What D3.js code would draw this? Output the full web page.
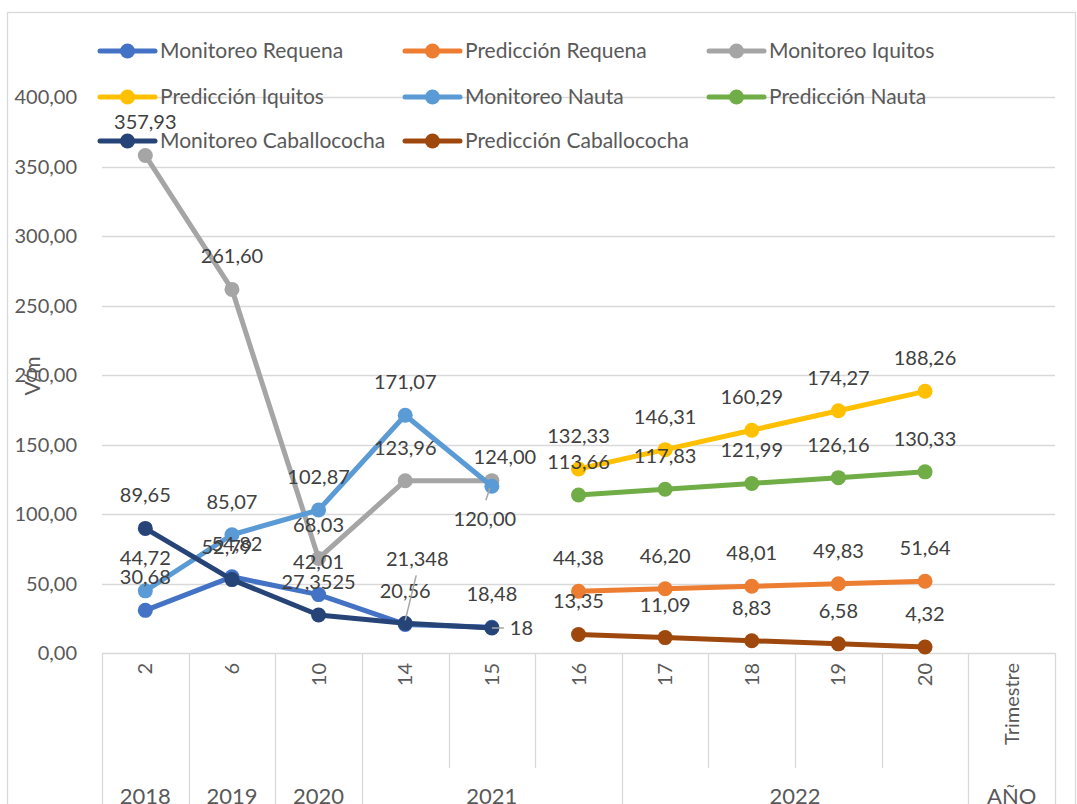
<!DOCTYPE html>
<html><head><meta charset="utf-8">
<script src="https://cdn.jsdelivr.net/npm/d3@7"></script>
<style>body{margin:0;background:#fff}svg{display:block}text{font-family:Lato,"Open Sans",sans-serif}</style>
</head><body>
<svg id="c" width="1077" height="804"></svg>
<script>
const categories = ["2","6","10","14","15","16","17","18","19","20","Trimestre"];
const yearLabels = ["2018","2019","2020","2021","2022","AÑO"];
const yearSpans = [1,1,1,3,4,1];
const yTicks = [0,50,100,150,200,250,300,350,400];

const monitoreoRequena      = [30.68, 54.82, 42.01, 20.56, 18.48, null, null, null, null, null, null];
const prediccionRequena     = [null, null, null, null, null, 44.38, 46.20, 48.01, 49.83, 51.64, null];
const monitoreoIquitos      = [357.93, 261.60, 68.03, 123.96, 124.00, null, null, null, null, null, null];
const prediccionIquitos     = [null, null, null, null, null, 132.33, 146.31, 160.29, 174.27, 188.26, null];
const monitoreoNauta        = [44.72, 85.07, 102.87, 171.07, 120.00, null, null, null, null, null, null];
const prediccionNauta       = [null, null, null, null, null, 113.66, 117.83, 121.99, 126.16, 130.33, null];
const monitoreoCaballococha = [89.65, 52.79, 27.3525, 21.348, 18, null, null, null, null, null, null];
const prediccionCaballococha= [null, null, null, null, null, 13.35, 11.09, 8.83, 6.58, 4.32, null];

const seriesNames = ["Monitoreo Requena","Predicción Requena","Monitoreo Iquitos","Predicción Iquitos",
  "Monitoreo Nauta","Predicción Nauta","Monitoreo Caballococha","Predicción Caballococha"];
const seriesValues = [monitoreoRequena, prediccionRequena, monitoreoIquitos, prediccionIquitos,
  monitoreoNauta, prediccionNauta, monitoreoCaballococha, prediccionCaballococha];
const seriesColors = ["#4472C4","#ED7D31","#A5A5A5","#FFC000","#5B9BD5","#70AD47","#264478","#9E480E"];
const seriesFormat = ["fixed","fixed","fixed","fixed","fixed","fixed","general","fixed"];

// label placement adjustments (styling): [seriesIndex, pointIndex] -> {dx, dy, anchor, leader}
const labelAdjust = {
  "0-1": {dx: 5},
  "6-1": {dx: -5},
  "2-4": {dx: 13, dy: -24},
  "4-4": {dx: -7, dy: 33, leader: [[-2, 2], [-6, 14]]},
  "6-3": {dx: 12, dy: -64, leader: [[0, -3], [11, -48]]},
  "6-4": {dx: 18, dy: 0, anchor: "start", leader: [[0, 0], [12, 0]]}
};

const locale = d3.formatLocale({decimal: ",", thousands: ".", grouping: [3], currency: ["", ""]});
const f2 = locale.format(".2f");
const fmt = (v, t) => t === "fixed" ? f2(v) : String(v).replace(".", ",");

const svg = d3.select("#c");
const plotLeft = 102, plotRight = 1055, plotTop = 97, plotBottom = 653;
const x = d3.scaleBand().domain(categories).range([plotLeft, plotRight]).padding(0);
const y = d3.scaleLinear().domain([0, 400]).range([plotBottom, plotTop]);
const cx = c => x(c) + x.bandwidth() / 2;

// chart frame
svg.append("rect").attr("x", 7.5).attr("y", 12.5).attr("width", 1068).attr("height", 800)
  .attr("fill", "none").attr("stroke", "#D9D9D9").attr("stroke-width", 1.3);

// gridlines
svg.append("g").selectAll("line").data(yTicks).join("line")
  .attr("x1", plotLeft).attr("x2", plotRight).attr("y1", d => Math.round(y(d)) + 0.5).attr("y2", d => Math.round(y(d)) + 0.5)
  .attr("stroke", "#D9D9D9").attr("stroke-width", 1.3);

// y tick labels
svg.append("g").selectAll("text").data(yTicks).join("text")
  .attr("x", 77).attr("y", d => y(d)).attr("dy", "0.35em").attr("text-anchor", "end")
  .attr("font-size", 20).attr("fill", "#595959").text(d => f2(d));

// y title
svg.append("text").attr("transform", "translate(33,376) rotate(-90)").attr("text-anchor", "middle")
  .attr("dy", "0.35em").attr("font-size", 21).attr("fill", "#595959").text("V/m");

// category separators
const groupStarts = [];
let acc = 0;
yearSpans.forEach(s => { groupStarts.push(acc); acc += s; });
const sepG = svg.append("g");
categories.forEach((c, i) => {
  const isGroup = groupStarts.includes(i);
  sepG.append("line").attr("x1", Math.round(x(c)) + 0.5).attr("x2", Math.round(x(c)) + 0.5)
    .attr("y1", plotBottom).attr("y2", isGroup ? 810 : 768).attr("stroke", "#D9D9D9").attr("stroke-width", 1.3);
});
sepG.append("line").attr("x1", plotRight + 0.5).attr("x2", plotRight + 0.5).attr("y1", plotBottom).attr("y2", 810)
  .attr("stroke", "#D9D9D9").attr("stroke-width", 1.3);

// category labels (rotated)
svg.append("g").selectAll("text").data(categories).join("text")
  .attr("transform", d => `translate(${cx(d)},663) rotate(-90)`)
  .attr("text-anchor", "end").attr("dy", "0.35em").attr("font-size", 20).attr("fill", "#595959").text(d => d);

// year labels
yearLabels.forEach((yl, gi) => {
  const a = categories[groupStarts[gi]];
  const b = categories[groupStarts[gi] + yearSpans[gi] - 1];
  const mid = (x(a) + x(b) + x.bandwidth()) / 2;
  svg.append("text").attr("x", mid).attr("y", 796).attr("dy", "0.35em").attr("text-anchor", "middle")
    .attr("font-size", 22).attr("fill", "#595959").text(yl);
});

// lines and markers
const line = d3.line().defined(d => d.v != null).x(d => cx(d.c)).y(d => y(d.v));
const seriesData = seriesValues.map(vals => vals.map((v, i) => ({c: categories[i], v, i})));
seriesData.forEach((pts, si) => {
  const g = svg.append("g");
  g.append("path").datum(pts).attr("d", line).attr("fill", "none")
    .attr("stroke", seriesColors[si]).attr("stroke-width", 5).attr("stroke-linejoin", "round");
  g.selectAll("circle").data(pts.filter(d => d.v != null)).join("circle")
    .attr("cx", d => cx(d.c)).attr("cy", d => y(d.v)).attr("r", 7.5).attr("fill", seriesColors[si]);
});

// data labels
seriesData.forEach((pts, si) => {
  pts.filter(d => d.v != null).forEach(d => {
    const adj = labelAdjust[si + "-" + d.i] || {};
    const px = cx(d.c), py = y(d.v);
    const lx = px + (adj.dx || 0), ly = py + (adj.dy != null ? adj.dy : -33);
    if (adj.leader) {
      svg.append("line").attr("x1", px + adj.leader[0][0]).attr("y1", py + adj.leader[0][1])
        .attr("x2", px + adj.leader[1][0]).attr("y2", py + adj.leader[1][1])
        .attr("stroke", "#A6A6A6").attr("stroke-width", 1.5);
    }
    svg.append("text").attr("x", lx).attr("y", ly).attr("dy", "0.35em")
      .attr("text-anchor", adj.anchor || "middle").attr("font-size", 20).attr("fill", "#404040")
      .text(fmt(d.v, seriesFormat[si]));
  });
});

// legend
const legendCols = [100, 405, 709], legendRows = [51, 97, 141];
seriesNames.forEach((name, i) => {
  const lx = legendCols[i % 3], ly = legendRows[Math.floor(i / 3)];
  const g = svg.append("g");
  g.append("line").attr("x1", lx).attr("x2", lx + 55).attr("y1", ly).attr("y2", ly)
    .attr("stroke", seriesColors[i]).attr("stroke-width", 5).attr("stroke-linecap", "round");
  g.append("circle").attr("cx", lx + 27.5).attr("cy", ly).attr("r", 7.5).attr("fill", seriesColors[i]);
  g.append("text").attr("x", lx + 60).attr("y", ly).attr("dy", "0.35em").attr("font-size", 21)
    .attr("fill", "#595959").text(name);
});
</script>
</body></html>
